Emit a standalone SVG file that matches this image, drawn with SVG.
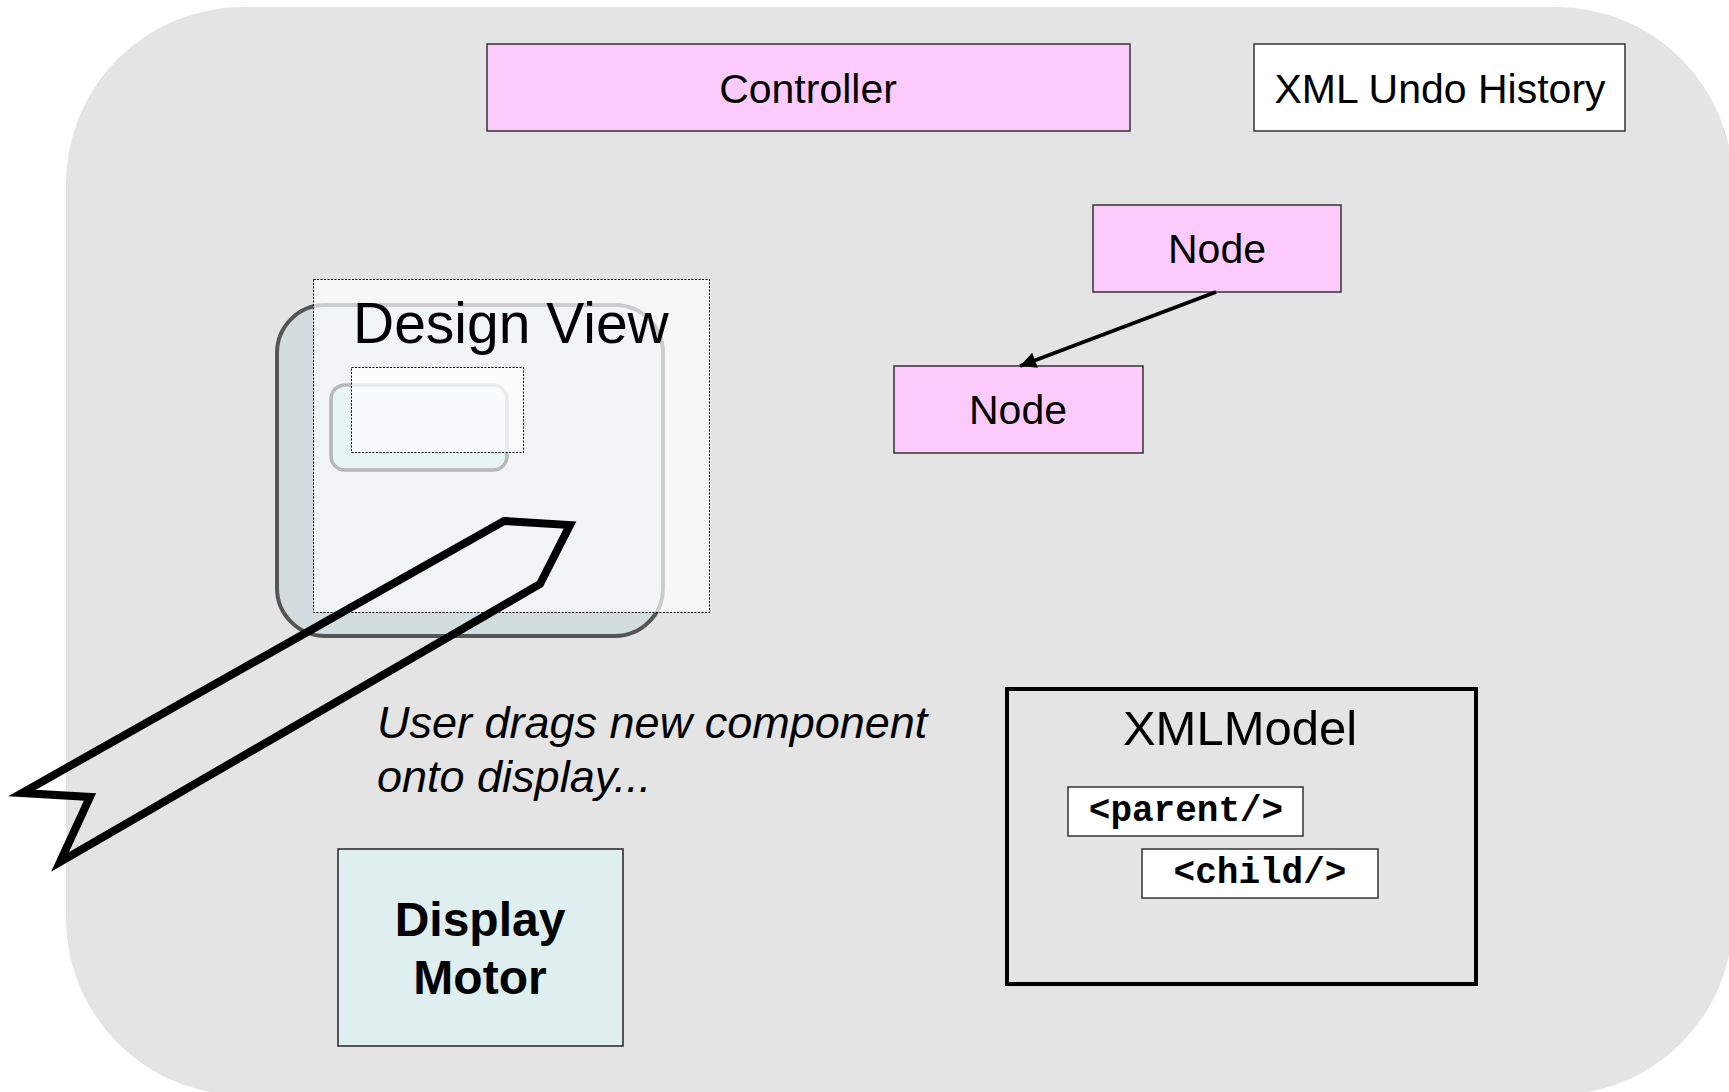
<svg xmlns="http://www.w3.org/2000/svg" width="1729" height="1092" viewBox="0 0 1729 1092">
  <defs>
    <marker id="arrowhead" viewBox="0 0 10 10" refX="10" refY="5" markerWidth="5.5" markerHeight="4" markerUnits="strokeWidth" orient="auto">
      <path d="M0,0 L10,5 L0,10 z" fill="#000"/>
    </marker>
  </defs>
  <style>
    text { font-family: "Liberation Sans", Arial, sans-serif; fill: #000; }
    .box { stroke: #333; stroke-width: 1.5; }
    .pink { fill: #fccbfc; }
    .white { fill: #fff; }
    .label { font-size: 41px; text-anchor: middle; }
    .mono { font-family: "Liberation Mono", "Courier New", monospace; font-weight: bold; font-size: 36px; text-anchor: middle; }
    .veil { fill: #fff; fill-opacity: 0.7; stroke: #000; stroke-width: 1; stroke-dasharray: 2 1.5; }
  </style>

  <!-- canvas backdrop -->
  <rect id="backdrop" x="66" y="7" width="1667" height="1088" rx="177" ry="177" fill="#e4e4e4"/>

  <g id="controller">
    <rect class="box pink" x="487" y="44" width="643" height="87"/>
    <text class="label" x="808" y="103">Controller</text>
  </g>

  <g id="undo-history">
    <rect class="box white" x="1254" y="44" width="371" height="87"/>
    <text class="label" x="1440" y="103">XML Undo History</text>
  </g>

  <g id="node-parent">
    <rect class="box pink" x="1093" y="205" width="248" height="87"/>
    <text class="label" x="1217" y="263" font-size="40">Node</text>
  </g>

  <g id="node-child">
    <rect class="box pink" x="894" y="366" width="249" height="87"/>
    <text class="label" x="1018" y="424" font-size="40">Node</text>
  </g>

  <g id="design-view">
    <rect x="277" y="305" width="386" height="331" rx="48" ry="48" fill="#d3dcdf" stroke="#555" stroke-width="4"/>
    <rect x="331" y="385" width="176" height="85" rx="14" ry="14" fill="#b0dcdc" stroke="#111" stroke-width="3.5"/>
    <rect class="veil" x="313.5" y="279.5" width="396" height="333"/>
    <rect class="veil" x="351.5" y="367.5" width="172" height="85"/>
    <text x="353" y="343" font-size="57">Design View</text>
  </g>

  <g id="xml-model">
    <rect x="1007" y="689" width="469" height="295" fill="none" stroke="#000" stroke-width="4"/>
    <text x="1240" y="745" font-size="49" text-anchor="middle">XMLModel</text>
    <g id="xml-parent">
      <rect class="box white" x="1068" y="787" width="235" height="49"/>
      <text class="mono" x="1186" y="821">&lt;parent/&gt;</text>
    </g>
    <g id="xml-child">
      <rect class="box white" x="1142" y="849" width="236" height="49"/>
      <text class="mono" x="1260" y="883">&lt;child/&gt;</text>
    </g>
  </g>

  <g id="display-motor">
    <rect x="338" y="849" width="285" height="197" fill="#dfeeee" stroke="#222" stroke-width="1.5"/>
    <text x="480" y="936" font-size="48" font-weight="bold" text-anchor="middle">Display</text>
    <text x="480" y="994" font-size="48" font-weight="bold" text-anchor="middle">Motor</text>
  </g>

  <g id="drag-note">
    <text x="377" y="738" font-size="45" font-style="italic">User drags new component</text>
    <text x="377" y="792" font-size="45" font-style="italic">onto display...</text>
  </g>

  <g id="connectors">
    <line x1="1216" y1="292" x2="1020" y2="366" stroke="#000" stroke-width="4" marker-end="url(#arrowhead)"/>
    <!-- drag gesture block arrow -->
    <polygon points="504,521 570,525 540,584 60,862 90,797 22,793" fill="none" stroke="#000" stroke-width="8" stroke-linejoin="miter" stroke-miterlimit="10"/>
  </g>
</svg>
